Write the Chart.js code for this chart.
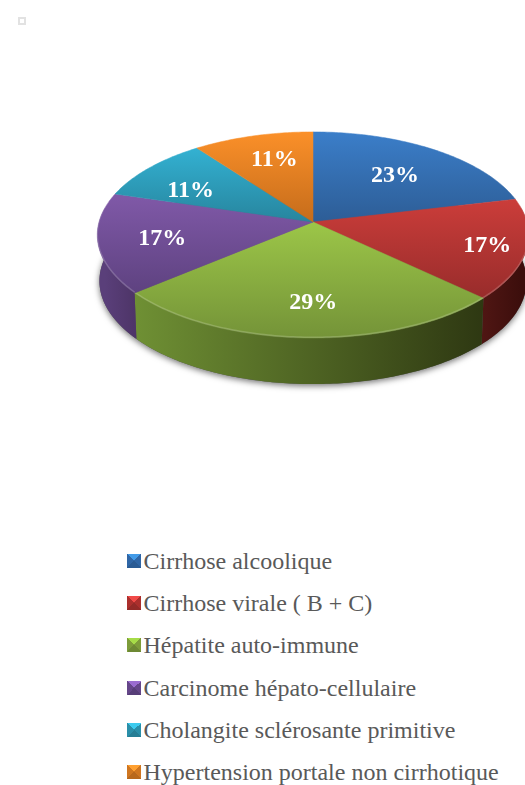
<!DOCTYPE html>
<html>
<head>
<meta charset="utf-8">
<title>Pie</title>
<script src="https://cdn.jsdelivr.net/npm/chart.js@4"></script>
<style>
  html, body { margin: 0; padding: 0; background: #fff; overflow: hidden; }
  body { width: 525px; height: 785px; position: relative; font-family: "Liberation Serif", serif; }
  #pie { position: absolute; left: 0; top: 0; }
  #marker { position: absolute; left: 18px; top: 17px; width: 4px; height: 4px; border: 2px solid #e2e2e2; z-index: 1; }
  #legend { position: absolute; left: 127px; top: 540px; margin: 0; padding: 0; list-style: none; }
  #legend li { height: 42.2px; line-height: 42.2px; font-size: 24px; color: #595959; white-space: nowrap; display: flex; align-items: center; }
  #legend i { width: 14px; height: 14px; margin-right: 2.5px; flex: none; }
</style>
</head>
<body>
<div id="marker"></div>
<canvas id="pie" width="626" height="444"></canvas>
<ul id="legend"></ul>
<script>
const labels = ["Cirrhose alcoolique", "Cirrhose virale ( B + C)", "Hépatite auto-immune", "Carcinome hépato-cellulaire", "Cholangite sclérosante primitive", "Hypertension portale non cirrhotique"];
const values = [23, 17, 29, 17, 11, 11];

// top face gradient, light then dark
const topLight = ["#3b7ec9", "#cb3d3a", "#9cc648", "#8059a8", "#33b1d2", "#fb9029"];
const topDark = ["#2d5d96", "#982c2b", "#749338", "#5e4280", "#27859e", "#c56c1b"];
// side wall gradient, left then right
const wallLeft = ["#2d5d96", "#4f1613", "#6f9034", "#5a3f7a", "#27859e", "#c56c1b"];
const wallRight = ["#2d5d96", "#3c0e0c", "#2e3812", "#4e3568", "#27859e", "#c56c1b"];
// legend swatch: top face, side faces, bottom face
const swatchTop = ["#429be8", "#f04a48", "#a6dc48", "#9a6cd0", "#3ccbee", "#ffa030"];
const swatchSide = ["#2f66a6", "#ab2f2d", "#7d9c3a", "#654689", "#2a8fa9", "#cf7620"];
const swatchBottom = ["#2a5b94", "#932a28", "#6d8934", "#573e78", "#267e95", "#b8681c"];

// where the percent labels sit, as a share of the radius
const labelRadius = [0.64, 0.82, 0.71, 0.715, 0.604, 0.72];
const labelNudge = [2, 0, 5, 2, -21, 6];
const labelDrop = 2;

const squash = 0.474;   // ellipse height / width
const persp = 0.126;    // front of the disc is drawn bigger than the back
const depth = 46;
const baseShrink = 0.99;

function project(arc, angle, r) {
  const u = r * Math.cos(angle);
  const v = r * Math.sin(angle);
  const d = 1 - persp * v;
  return {
    x: arc.x + arc.outerRadius * u / d,
    y: arc.y + arc.outerRadius * squash * v / d
  };
}

function baseOf(arc, p) {
  return { x: arc.x + (p.x - arc.x) * baseShrink, y: p.y + depth };
}

function rimPoints(arc, a0, a1) {
  const pts = [];
  const n = Math.max(2, Math.ceil(Math.abs(a1 - a0) / 0.015));
  for (let i = 0; i <= n; i++) {
    pts.push(project(arc, a0 + (a1 - a0) * i / n, 1));
  }
  return pts;
}

function trace(ctx, pts) {
  pts.forEach((p, i) => i ? ctx.lineTo(p.x, p.y) : ctx.moveTo(p.x, p.y));
}

const pie3d = {
  id: "pie3d",
  beforeDatasetsDraw(chart) {
    const ctx = chart.ctx;
    const arcs = chart.getDatasetMeta(0).data;
    const first = arcs[0];
    const whole = rimPoints(first, 0, Math.PI * 2);

    // soft shadow round the base
    ctx.save();
    ctx.shadowColor = "rgba(0,0,0,0.55)";
    ctx.shadowBlur = 6;
    ctx.shadowOffsetY = 2;
    ctx.fillStyle = "#555";
    ctx.beginPath();
    trace(ctx, whole.map(p => baseOf(first, p)));
    ctx.closePath();
    ctx.fill();
    ctx.restore();

    // side walls, only the part turned to the viewer
    arcs.forEach((arc, i) => {
      const a0 = Math.max(arc.startAngle, -0.14);
      const a1 = Math.min(arc.endAngle, Math.PI + 0.14);
      if (a1 <= a0) return;
      const rim = rimPoints(arc, a0, a1);
      const base = rim.map(p => baseOf(arc, p)).reverse();
      const g = ctx.createLinearGradient(rim[0].x, 0, rim[rim.length - 1].x, 0);
      g.addColorStop(0, wallRight[i]);
      g.addColorStop(1, wallLeft[i]);
      ctx.fillStyle = g;
      ctx.beginPath();
      trace(ctx, rim.concat(base));
      ctx.closePath();
      ctx.fill();
    });

    // top face
    arcs.forEach((arc, i) => {
      const rim = rimPoints(arc, arc.startAngle, arc.endAngle);
      const ys = rim.map(p => p.y).concat(arc.y);
      const g = ctx.createLinearGradient(0, Math.min(...ys), 0, Math.max(...ys));
      g.addColorStop(0, topLight[i]);
      g.addColorStop(1, topDark[i]);
      ctx.fillStyle = g;
      ctx.strokeStyle = g;
      ctx.lineWidth = 0.5;
      ctx.beginPath();
      trace(ctx, [{ x: arc.x, y: arc.y }].concat(rim));
      ctx.closePath();
      ctx.fill();
      ctx.stroke();

      // bevel light along the front edge
      const a0 = Math.max(arc.startAngle, -0.2);
      const a1 = Math.min(arc.endAngle, Math.PI + 0.2);
      if (a1 > a0) {
        ctx.save();
        ctx.strokeStyle = "rgba(255,255,255,0.18)";
        ctx.lineWidth = 1.5;
        ctx.beginPath();
        trace(ctx, rimPoints(arc, a0, a1).map(p => ({ x: p.x, y: p.y - 0.8 })));
        ctx.stroke();
        ctx.restore();
      }
    });

    return false; // faces above replace the flat arcs
  },
  // afterDatasetsDraw does not fire once the draw above is cancelled
  afterDraw(chart) {
    const ctx = chart.ctx;
    ctx.save();
    ctx.fillStyle = "#fff";
    ctx.font = 'bold 24px "Liberation Serif"';
    ctx.textAlign = "center";
    ctx.textBaseline = "middle";
    chart.getDatasetMeta(0).data.forEach((arc, i) => {
      const p = project(arc, (arc.startAngle + arc.endAngle) / 2, labelRadius[i]);
      ctx.fillText(values[i] + "%", p.x + labelNudge[i], p.y + labelDrop);
    });
    ctx.restore();
  }
};

new Chart(document.getElementById("pie"), {
  type: "pie",
  data: {
    labels: labels,
    datasets: [{ data: values, backgroundColor: topLight, borderWidth: 0 }]
  },
  options: {
    responsive: false,
    animation: false,
    radius: 214,
    plugins: { legend: { display: false }, tooltip: { enabled: false } }
  },
  plugins: [pie3d]
});

// legend as a plain list under the chart
const legendEl = document.getElementById("legend");
labels.forEach((name, i) => {
  const li = document.createElement("li");
  const sw = document.createElement("i");
  sw.style.background = `conic-gradient(from -45deg, ${swatchTop[i]} 0 90deg, ${swatchSide[i]} 90deg 180deg, ${swatchBottom[i]} 180deg 270deg, ${swatchSide[i]} 270deg 360deg)`;
  li.appendChild(sw);
  li.appendChild(document.createTextNode(name));
  legendEl.appendChild(li);
});
</script>
</body>
</html>
